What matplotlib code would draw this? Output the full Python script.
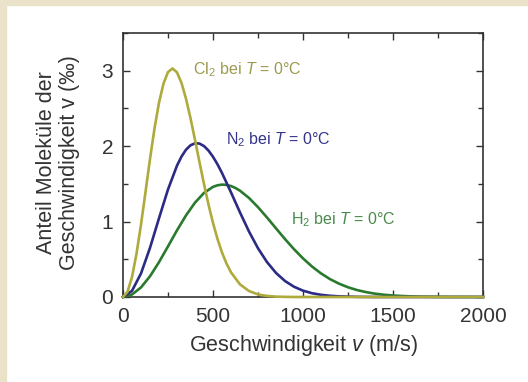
import matplotlib
matplotlib.use("Agg")
import matplotlib.pyplot as plt
from matplotlib.patches import Rectangle
from matplotlib.ticker import MultipleLocator

# speeds (m/s) and share of molecules (per mille)
cl2_v = [0, 25, 50, 75, 100, 125, 150, 175, 200, 225, 250, 275, 300, 325, 350, 375,
         400, 425, 450, 475, 500, 525, 550, 575, 600, 650, 700, 750, 800, 850, 900, 950, 2000]
cl2_f = [0, 0.068, 0.265, 0.573, 0.960, 1.392, 1.829, 2.234, 2.576, 2.830, 2.982, 3.030,
         2.978, 2.838, 2.629, 2.371, 2.083, 1.787, 1.497, 1.225, 0.982, 0.769, 0.590, 0.444,
         0.327, 0.167, 0.079, 0.034, 0.014, 0.005, 0.002, 0.0, 0.0]

n2_v = [0, 50, 100, 150, 200, 250, 300, 325, 350, 375, 400, 425, 450, 475, 500, 525, 550,
        600, 650, 700, 750, 800, 850, 900, 950, 1000, 1050, 1100, 1150, 1200, 1250, 1300,
        1350, 1400, 2000]
n2_f = [0, 0.082, 0.312, 0.652, 1.044, 1.426, 1.742, 1.862, 1.953, 2.011, 2.038, 2.034,
        2.001, 1.941, 1.859, 1.759, 1.644, 1.387, 1.121, 0.868, 0.646, 0.463, 0.319, 0.212,
        0.136, 0.084, 0.050, 0.029, 0.016, 0.009, 0.005, 0.002, 0.001, 0.0, 0.0]

h2_v = [0, 50, 100, 150, 200, 250, 300, 350, 400, 450, 500, 525, 550, 575, 600, 625, 650,
        700, 750, 800, 850, 900, 950, 1000, 1050, 1100, 1150, 1200, 1250, 1300, 1350, 1400,
        1450, 1500, 1550, 1600, 1650, 1700, 1750, 1800, 2000]
h2_f = [0, 0.033, 0.127, 0.275, 0.462, 0.671, 0.884, 1.082, 1.251, 1.380, 1.460, 1.481,
        1.490, 1.486, 1.471, 1.445, 1.409, 1.313, 1.191, 1.054, 0.910, 0.768, 0.634, 0.512,
        0.404, 0.313, 0.237, 0.177, 0.129, 0.092, 0.065, 0.044, 0.030, 0.020, 0.013, 0.008,
        0.005, 0.003, 0.002, 0.001, 0.0]

labels = ["Cl$_2$ bei $T$ = 0°C", "N$_2$ bei $T$ = 0°C", "H$_2$ bei $T$ = 0°C"]
# where each label starts (m/s, per mille)
label_pos = [(390, 3.02), (570, 2.08), (935, 1.03)]

plt.rcParams['font.family'] = ['Liberation Sans', 'DejaVu Sans']
plt.rcParams['mathtext.fontset'] = 'custom'
plt.rcParams['mathtext.rm'] = 'Liberation Sans'
plt.rcParams['mathtext.it'] = 'Liberation Sans:italic'

fig = plt.figure(figsize=(5.28, 3.82), dpi=100)
fig.patch.set_facecolor('white')
# beige frame strips on the left and top edge
fig.patches.append(Rectangle((0, 0), 6 / 528, 1, transform=fig.transFigure,
                             color='#ebe3c9', zorder=0))
fig.patches.append(Rectangle((0, 1 - 5 / 382), 1, 5 / 382, transform=fig.transFigure,
                             color='#ebe3c9', zorder=0))

ax = fig.add_axes([123 / 528, 1 - 297 / 382, 360 / 528, 264 / 382])

ax.plot(h2_v, h2_f, color='#2a7a2e', lw=1.9, clip_on=False, zorder=3)
ax.plot(n2_v, n2_f, color='#2b2b85', lw=1.9, clip_on=False, zorder=3)
ax.plot(cl2_v, cl2_f, color='#aeaa3c', lw=1.9, clip_on=False, zorder=3)

label_colors = ['#9c9a50', '#34348a', '#4a8a4a']
for txt, (lx, ly), c in zip(labels, label_pos, label_colors):
    ax.text(lx, ly, txt, color=c, fontsize=11.5, va='center', ha='left')

ax.set_xlim(0, 2000)
ax.set_ylim(0, 3.5)
ax.xaxis.set_major_locator(MultipleLocator(500))
ax.xaxis.set_minor_locator(MultipleLocator(250))
ax.yaxis.set_major_locator(MultipleLocator(1))
ax.yaxis.set_minor_locator(MultipleLocator(0.5))
ax.tick_params(which='both', direction='in', top=True, right=True, color='#333333',
               width=1.0)
ax.tick_params(which='major', length=5, labelsize=15, pad=7, labelcolor='#333333')
ax.tick_params(which='minor', length=3.5)
for s in ax.spines.values():
    s.set_linewidth(1.2)
    s.set_color('#333333')

ax.set_xlabel("Geschwindigkeit $v$ (m/s)", fontsize=15.5, color='#333333')
ax.xaxis.set_label_coords(0.5, -0.135)
ax.xaxis.label.set_va('top')
ax.set_ylabel("Anteil Moleküle der\nGeschwindigkeit v (‰)", fontsize=15.5,
              color='#333333', linespacing=1.1)
ax.yaxis.set_label_coords(-0.12, 0.51)

fig.savefig("out.png", dpi=100)
